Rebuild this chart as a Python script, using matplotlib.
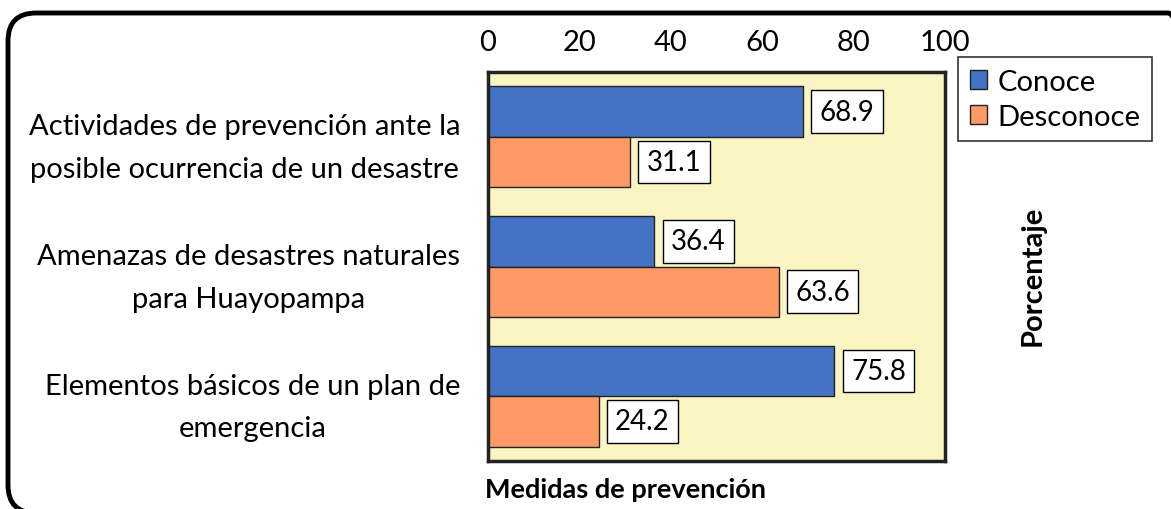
import numpy as np
import matplotlib
matplotlib.use("Agg")
import matplotlib.pyplot as plt
from matplotlib.patches import FancyBboxPatch
from matplotlib.transforms import IdentityTransform

plt.rcParams['font.family'] = ['Lato', 'DejaVu Sans']

# Data
categories = ['Actividades de prevención ante la\nposible ocurrencia de un desastre',
              'Amenazas de desastres naturales\npara Huayopampa',
              'Elementos básicos de un plan de\nemergencia']
conoce = [68.9, 36.4, 75.8]
desconoce = [31.1, 63.6, 24.2]
xticks = [0, 20, 40, 60, 80, 100]

W, H = 1171, 510
fig = plt.figure(figsize=(W / 100, H / 100), dpi=100)

# rounded outer border, in pixels (origin bottom-left)
bx, btop, bw, bh = 8, 14, 1188, 500
border = FancyBboxPatch((bx, H - btop - bh), bw, bh, boxstyle='round,pad=0,rounding_size=28',
                        transform=IdentityTransform(), fill=False, ec='black', lw=3.5)
fig.patches.append(border)

ax = fig.add_axes([0.4167, 0.0941, 0.3903, 0.7627])
ax.set_facecolor('#FAF5C3')

y = np.arange(len(categories))
h = 0.39
b1 = ax.barh(y - h / 2, conoce, height=h, color='#4472C4', edgecolor='#222222', lw=1, label='Conoce')
b2 = ax.barh(y + h / 2, desconoce, height=h, color='#FF9966', edgecolor='#222222', lw=1, label='Desconoce')

# value labels in white boxes
for bars, vals in [(b1, conoce), (b2, desconoce)]:
    for rect, v in zip(bars, vals):
        ax.annotate(f'{v:.1f}', (v, rect.get_y() + rect.get_height() / 2),
                    xytext=(12, 0), textcoords='offset points', ha='left', va='center',
                    fontsize=20,
                    bbox=dict(boxstyle='square,pad=0.3', fc='white', ec='black', lw=1))

ax.set_xlim(0, 100)
ax.set_ylim(2.5, -0.5)
ax.set_xticks(xticks)
ax.xaxis.tick_top()
ax.set_yticks(y)
ax.set_yticklabels(categories, multialignment='center', linespacing=1.8)
ax.tick_params(axis='x', length=0, pad=12, labelsize=21)
ax.tick_params(axis='y', length=0, pad=20, labelsize=21)
for s in ax.spines.values():
    s.set_color('#222222')
    s.set_linewidth(2.5)

leg = fig.legend(handles=[b1, b2], loc='upper left', bbox_to_anchor=(0.818, 0.886),
                 fontsize=21, frameon=True, fancybox=False, edgecolor='black',
                 handlelength=0.6, handleheight=0.6, handletextpad=0.35,
                 borderpad=0.4, labelspacing=0.3, borderaxespad=0)
leg.get_frame().set_linewidth(1.2)

fig.text(0.882, 0.459, 'Porcentaje', rotation=90, ha='center', va='center',
         fontsize=21, fontweight='bold')
fig.text(0.534, 0.039, 'Medidas de prevención', ha='center', va='center',
         fontsize=19.5, fontweight='bold')

fig.savefig('out.png', dpi=100)
